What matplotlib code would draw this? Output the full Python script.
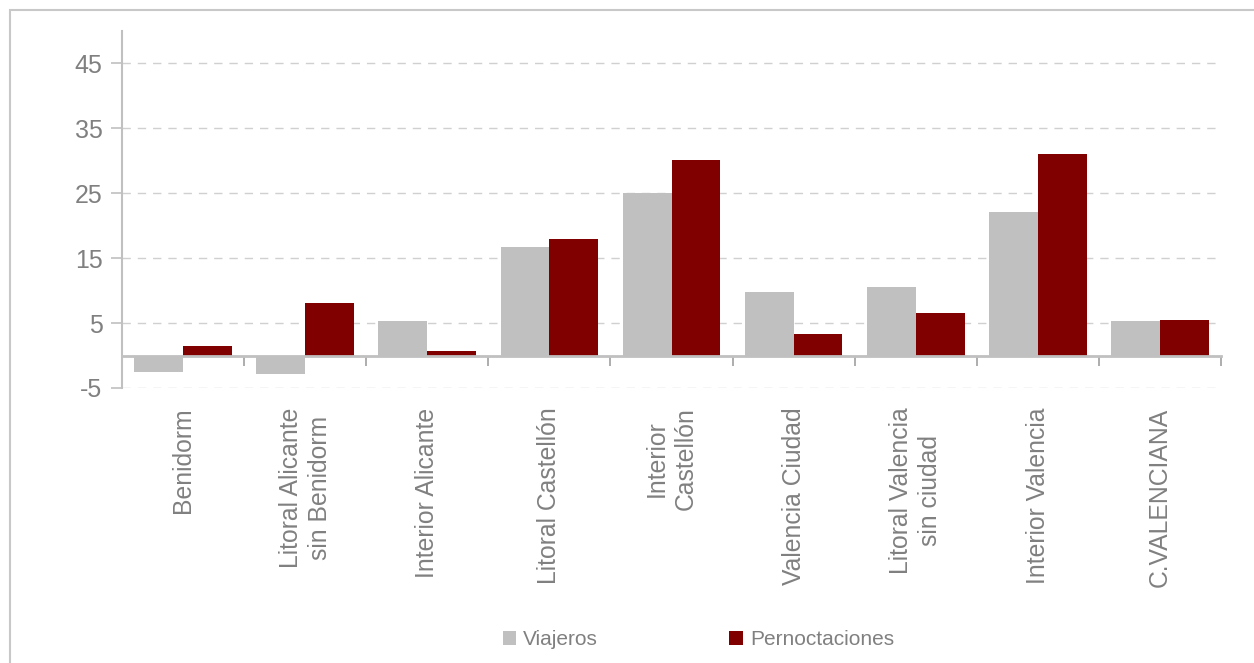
import matplotlib.pyplot as plt
import numpy as np
from matplotlib.patches import Rectangle
from matplotlib.transforms import blended_transform_factory

# === Data ===
categories = ["Benidorm", "Litoral Alicante\nsin Benidorm", "Interior Alicante",
              "Litoral Castellón", "Interior\nCastellón", "Valencia Ciudad",
              "Litoral Valencia\nsin ciudad", "Interior Valencia", "C.VALENCIANA"]
viajeros = [-2.5, -2.8, 5.3, 16.7, 25.1, 9.8, 10.6, 22.1, 5.3]
pernoctaciones = [1.5, 8.1, 0.7, 17.9, 30.1, 3.3, 6.6, 31.0, 5.45]
yticks = [-5, 5, 15, 25, 35, 45]

plt.rcParams['font.family'] = ['Liberation Sans', 'DejaVu Sans']
text_col = '#808080'
axis_col = '#c0c0c0'

fig = plt.figure(figsize=(12.54, 6.63), dpi=100)
ax = fig.add_axes([0.0973, 0.4148, 0.8764, 0.5384])

# outer light frame
fig.patches.append(Rectangle((10 / 1254, -0.1), 1.2, 1 - 10 / 663 + 0.1,
                             transform=fig.transFigure, fill=False,
                             edgecolor='#c8c8c8', linewidth=1.5, zorder=0))

x = np.arange(len(categories))
w = 0.4
ax.bar(x - w / 2, viajeros, w, color='#c0c0c0', label='Viajeros', zorder=3)
ax.bar(x + w / 2, pernoctaciones, w, color='#800000', label='Pernoctaciones', zorder=3)

ax.set_xlim(-0.5, len(categories) - 0.5)
ax.set_ylim(-5, 50)
ax.set_yticks(yticks)
ax.set_yticklabels([str(t) for t in yticks])
ax.tick_params(axis='y', colors=axis_col, labelcolor=text_col, labelsize=18,
               length=8, width=1.2, pad=6)
ax.grid(axis='y', color='#d0d0d0', linestyle=(0, (6, 5)), linewidth=1, zorder=0)

for s in ['top', 'right']:
    ax.spines[s].set_visible(False)
ax.spines['left'].set_color(axis_col)
ax.spines['left'].set_linewidth(1.5)
ax.spines['bottom'].set_position(('data', 0))
ax.spines['bottom'].set_color(axis_col)
ax.spines['bottom'].set_linewidth(2)
ax.spines['bottom'].set_zorder(4)

# category boundary ticks on the zero axis
ax.set_xticks(np.arange(len(categories) + 1) - 0.5)
ax.set_xticklabels([])
ax.tick_params(axis='x', colors='#a0a0a0', length=7, width=1.2)

# category labels below the plot area
trans = blended_transform_factory(ax.transData, ax.transAxes)
for i, c in enumerate(categories):
    ax.text(i, -0.055, c, transform=trans, rotation=90, ha='center', va='top',
            multialignment='center', fontsize=17.8, color=text_col,
            linespacing=1.25)

fig.legend(loc='center', bbox_to_anchor=(0.557, 0.035), ncol=2, frameon=False,
           fontsize=15, labelcolor=text_col, handlelength=0.65, handleheight=0.65,
           handletextpad=0.35, columnspacing=6.3)

plt.savefig("out.png", dpi=100)
plt.close()
